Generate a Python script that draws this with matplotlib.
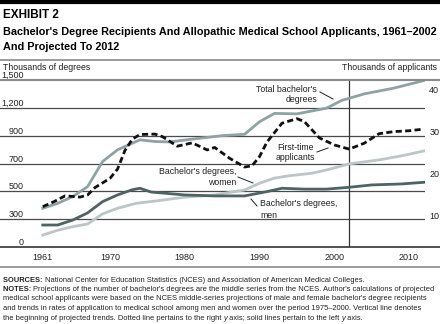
import numpy as np
import matplotlib.pyplot as plt
import matplotlib.transforms as mtransforms
from matplotlib.lines import Line2D
from matplotlib import font_manager

# ---- data ----
grid_vals = [0, 300, 500, 700, 900, 1200, 1500]   # left axis labels (evenly spaced)
grid_idx = [0, 1, 2, 3, 4, 5, 6]
right_ticks = [10, 20, 30, 40]
x_ticks = [1961, 1970, 1980, 1990, 2000, 2010]

total_yr = [1961, 1963, 1965, 1967, 1969, 1971, 1974, 1976, 1978, 1981, 1985, 1988,
            1990, 1992, 1995, 1999, 2001, 2004, 2008, 2012]
total = [378, 414, 462, 534, 714, 798, 870, 858, 855, 875, 900, 915,
         1050, 1140, 1135, 1197, 1280, 1350, 1413, 1494]

men_yr = [1961, 1963, 1965, 1967, 1969, 1971, 1973, 1974, 1975.5, 1980, 1984, 1988,
          1991, 1993, 1996, 1999, 2002, 2005, 2009, 2012]
men = [237, 237, 290, 345, 426, 474, 512, 522, 495, 474, 467, 467,
       498, 522, 516, 516, 529, 546, 553, 565]

women_yr = [1961, 1963, 1965, 1967, 1969, 1971, 1973.5, 1976, 1980, 1984, 1988, 1990,
            1992, 1994, 1997, 1999, 2002, 2006, 2009, 2012]
women = [129, 180, 219, 248, 338, 378, 414, 430, 458, 474, 510, 558,
         595, 612, 630, 654, 697, 726, 755, 790]

appl_yr = [1961, 1962.5, 1964, 1966, 1967, 1968, 1970, 1971, 1972, 1973, 1974, 1976,
           1977, 1979, 1981, 1983, 1984, 1986, 1988, 1989, 1990, 1991, 1993, 1995,
           1996, 1998, 2000, 2002, 2004, 2006, 2008, 2010, 2012]
appl = [12.0, 13.2, 14.6, 14.3, 14.8, 16.6, 18.8, 21.0, 25.5, 28.2, 29.3, 29.4,
        28.8, 26.5, 27.3, 25.6, 26.2, 23.6, 21.5, 21.8, 24.0, 27.5, 32.0, 33.1,
        32.4, 28.5, 26.8, 25.8, 27.2, 29.5, 30.0, 30.2, 30.6]

proj_start = 2002

c_total = '#8fa3a3'
c_men = '#4d6464'
c_women = '#bcc6c6'
c_grid = '#4a4a4a'

fams = [f.name for f in font_manager.fontManager.ttflist]
narrow = 'Liberation Sans Narrow' if 'Liberation Sans Narrow' in fams else 'Liberation Sans'
plt.rcParams['font.family'] = [narrow, 'DejaVu Sans']

W, H = 440, 324
fig = plt.figure(figsize=(W / 100, H / 100), dpi=100)


def fy(py):
    return 1 - py / H


ax = fig.add_axes([0, fy(247), 425 / W, (247 - 80) / H])
fwd = lambda v: np.interp(v, grid_vals, grid_idx)
inv = lambda i: np.interp(i, grid_idx, grid_vals)
ax.set_yscale('function', functions=(fwd, inv))
ax.set_ylim(0, 1500)
ax.set_xlim(1955.28, 2012.14)
for s in ax.spines.values():
    s.set_visible(False)
ax.set_yticks([])
ax.set_xticks(x_ticks)
ax.tick_params(axis='x', length=0, pad=4, labelsize=6.5, labelcolor='#222222')

for v in grid_vals[1:-1]:
    ax.axhline(v, color=c_grid, lw=0.9, zorder=1)
trans = mtransforms.blended_transform_factory(ax.transAxes, ax.transData)
for v in grid_vals:
    ax.text(24 / 425, v, f'{v:,}', transform=trans, ha='right', va='bottom',
            fontsize=6.5, color='#222222')

ax.axvline(proj_start, color='#333333', lw=0.9, zorder=1)

ax.plot(women_yr, women, color=c_women, lw=2, zorder=3)
ax.plot(men_yr, men, color=c_men, lw=2, zorder=3)
ax.plot(total_yr, total, color=c_total, lw=2, zorder=3)

ax2 = ax.twinx()
ax2.set_ylim(2.33, 42.37)
for s in ax2.spines.values():
    s.set_visible(False)
ax2.set_yticks(right_ticks)
ax2.tick_params(axis='y', length=0, pad=3, labelsize=6.5, labelcolor='#222222')
ax2.plot(appl_yr, appl, color='#111111', lw=2, ls=(0, (2.2, 1.2)), zorder=4)

# annotations
ann = dict(fontsize=6.3, color='#222222')
fig.text(317 / W, fy(89), "Total bachelor's", ha='right', va='center', **ann)
fig.text(317 / W, fy(100), 'degrees', ha='right', va='center', **ann)
fig.text(295 / W, fy(148), 'First-time', ha='center', va='center', **ann)
fig.text(295 / W, fy(158), 'applicants', ha='center', va='center', **ann)
fig.text(236 / W, fy(171), "Bachelor's degrees,", ha='right', va='center', **ann)
fig.text(236 / W, fy(183), 'women', ha='right', va='center', **ann)
fig.text(260 / W, fy(204), "Bachelor's degrees,", ha='left', va='center', **ann)
fig.text(260 / W, fy(215), 'men', ha='left', va='center', **ann)
for (x0, y0, x1, y1) in [(320, 92, 333, 99), (317, 152, 328, 148),
                         (238, 177, 253, 183), (251, 199, 257, 206)]:
    fig.add_artist(Line2D([x0 / W, x1 / W], [fy(y0), fy(y1)], color='#222222', lw=0.7))


# frame lines
def hline(py, color, lw, x0=0, x1=W):
    fig.add_artist(Line2D([x0 / W, x1 / W], [fy(py), fy(py)], color=color, lw=lw))


hline(1.5, '#000000', 3)
hline(60, '#8a8a8a', 1.2)
hline(79.5, '#8a8a8a', 1.5)
hline(247, '#333333', 1.2)
hline(267, '#8a8a8a', 1.2)

# titles
bold_fam = ['Liberation Sans', 'DejaVu Sans']
fig.text(3 / W, fy(15), 'EXHIBIT 2', ha='left', va='center', fontsize=8.5,
         fontweight='bold', family=bold_fam)
fig.text(3 / W, fy(32), "Bachelor's Degree Recipients And Allopathic Medical School Applicants, 1961–2002",
         ha='left', va='center', fontsize=7.85, fontweight='bold', family=bold_fam)
fig.text(3 / W, fy(47), 'And Projected To 2012', ha='left', va='center', fontsize=7.85,
         fontweight='bold', family=bold_fam)
fig.text(3 / W, fy(68), 'Thousands of degrees', ha='left', va='center', fontsize=6.3, color='#222222')
fig.text(437 / W, fy(68), 'Thousands of applicants', ha='right', va='center', fontsize=6.3, color='#222222')

# footnotes
renderer = fig.canvas.get_renderer()
fn_size = 5.45


def runs(px, py, parts, size=fn_size):
    x = px
    for txt, weight, style in parts:
        t = fig.text(x / W, fy(py), txt, ha='left', va='center', fontsize=size,
                     fontweight=weight, fontstyle=style, color='#222222')
        x += t.get_window_extent(renderer).width


n = ('normal', 'normal')
b = ('bold', 'normal')
it = ('normal', 'italic')
runs(3, 280, [('SOURCES: ',) + b,
              ('National Center for Education Statistics (NCES) and Association of American Medical Colleges.',) + n])
runs(3, 289.5, [('NOTES: ',) + b,
                ("Projections of the number of bachelor's degrees are the middle series from the NCES. Author's calculations of projected",) + n])
runs(3, 299, [("medical school applicants were based on the NCES middle-series projections of male and female bachelor's degree recipients",) + n])
runs(3, 308.5, [('and trends in rates of application to medical school among men and women over the period 1975–2000. Vertical line denotes',) + n])
runs(3, 318, [('the beginning of projected trends. Dotted line pertains to the right ',) + n, ('y',) + it,
              (' axis; solid lines pertain to the left ',) + n, ('y',) + it, (' axis.',) + n])

fig.savefig('out.png', dpi=100)
